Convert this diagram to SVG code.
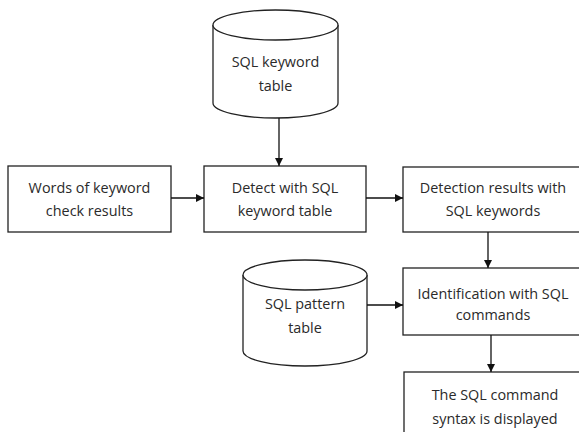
<svg xmlns="http://www.w3.org/2000/svg" width="579" height="432" viewBox="0 0 579 432">
<defs>
<style>
.box{fill:#fff;stroke:#222;stroke-width:1.3}
.cyl{fill:#fff;stroke:#222;stroke-width:1.3}
.t{font-family:"Open Sans","Noto Sans",sans-serif;font-size:14.4px;fill:#2a2a2a;text-anchor:middle}
.c{stroke:#111;stroke-width:1.3;fill:none;marker-end:url(#ah)}
</style>
<marker id="ah" viewBox="0 0 10 10" refX="10" refY="5" markerWidth="8" markerHeight="8" markerUnits="userSpaceOnUse" orient="auto">
<path d="M0,0 L10,5 L0,10 z" fill="#111"/>
</marker>
</defs>
<rect width="579" height="432" fill="#fff"/>
<g id="cyl-keyword">
<path class="cyl" d="M213,25 A62.5,15 0 0 1 338,25 L338,103 A62.5,15 0 0 1 213,103 Z"/>
<path class="cyl" d="M213,25 A62.5,15 0 0 0 338,25" fill="none"/>
<text class="t" x="275.5" y="67">SQL keyword</text>
<text class="t" x="275.5" y="91">table</text>
</g>
<g id="words">
<rect class="box" x="8" y="166" width="163" height="66"/>
<text class="t" x="89.5" y="193">Words of keyword</text>
<text class="t" x="89.5" y="216">check results</text>
</g>
<g id="detect">
<rect class="box" x="204" y="166" width="162" height="66"/>
<text class="t" x="285" y="193">Detect with SQL</text>
<text class="t" x="285" y="216">keyword table</text>
</g>
<g id="results">
<rect class="box" x="403" y="167" width="180" height="65"/>
<text class="t" x="493" y="193">Detection results with</text>
<text class="t" x="493" y="216">SQL keywords</text>
</g>
<g id="cyl-pattern">
<path class="cyl" d="M243,275 A62,15 0 0 1 367,275 L367,351 A62,15 0 0 1 243,351 Z"/>
<path class="cyl" d="M243,275 A62,15 0 0 0 367,275" fill="none"/>
<text class="t" x="305" y="309">SQL pattern</text>
<text class="t" x="305" y="333">table</text>
</g>
<g id="identify">
<rect class="box" x="403" y="268" width="180" height="67"/>
<text class="t" x="493" y="299">Identification with SQL</text>
<text class="t" x="493" y="320">commands</text>
</g>
<g id="display">
<rect class="box" x="404" y="372" width="182" height="70"/>
<text class="t" x="495" y="400">The SQL command</text>
<text class="t" x="495" y="424">syntax is displayed</text>
</g>
<g id="connectors">
<path class="c" d="M279,118 L279,166"/>
<path class="c" d="M171,198 L204,198"/>
<path class="c" d="M366,198 L403,198"/>
<path class="c" d="M488,232 L488,268"/>
<path class="c" d="M367,305 L403,305"/>
<path class="c" d="M491,335 L491,372"/>
</g>
</svg>
